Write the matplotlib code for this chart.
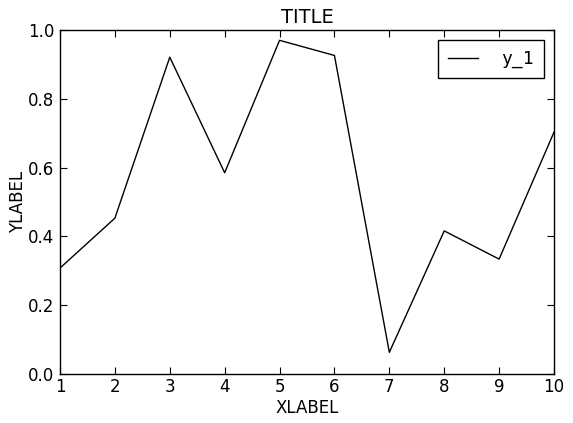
import numpy as np
import matplotlib
matplotlib.use('Agg')
import matplotlib.pyplot as plt

# data
x = [1, 2, 3, 4, 5, 6, 7, 8, 9, 10]
y_1 = [0.308, 0.453, 0.921, 0.585, 0.970, 0.926, 0.063, 0.416, 0.334, 0.703]

fig = plt.figure(figsize=(5.73, 4.23), dpi=100)
ax = fig.add_axes([60/573, 1 - 374/423, 494/573, 344/423])

ax.plot(x, y_1, 'k-', lw=1, label='y_1')
ax.set_xlim(1, 10)
ax.set_ylim(0, 1)
ax.set_xticks(x)
ax.set_yticks(np.arange(0, 1.01, 0.2))
ax.tick_params(direction='in', top=True, right=True, length=5, width=0.8,
               labelsize=12)
ax.tick_params(axis='x', pad=3)
ax.tick_params(axis='y', pad=4)
for s in ax.spines.values():
    s.set_linewidth(1)

ax.set_title('TITLE', fontsize=14, pad=5)
ax.set_xlabel('XLABEL', fontsize=12, labelpad=2)
ax.set_ylabel('YLABEL', fontsize=12, labelpad=1)
leg = ax.legend(loc='upper right', fancybox=False, framealpha=1,
                prop={'family': 'DejaVu Sans Mono', 'size': 13},
                handlelength=1.65, handletextpad=1.3, borderpad=0.55,
                borderaxespad=0.55)
leg.get_frame().set_edgecolor('black')
leg.get_frame().set_linewidth(1)

fig.savefig('out.png', dpi=100)
